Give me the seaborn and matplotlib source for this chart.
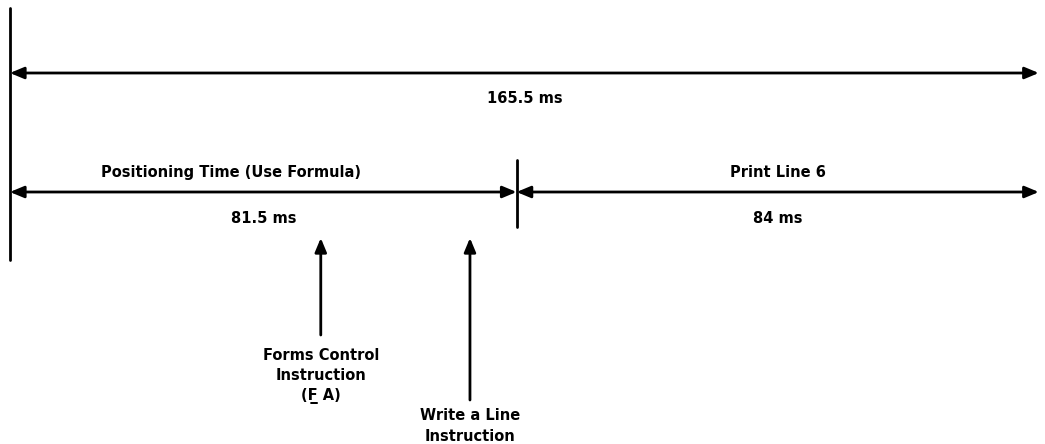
# timing diagram: positioning time + print line

import matplotlib
matplotlib.use("Agg")
import matplotlib.pyplot as plt
import seaborn as sns

# --- data (ms) ---
total_time = 165.5
segment_names = ["Positioning Time (Use Formula)", "Print Line 6"]
segment_lengths = [81.5, 84]
segment_labels = ["81.5 ms", "84 ms"]
event_times = [50.0, 74.0]
event_labels = ["Forms Control\nInstruction\n(F\u0332 A)", "Write a Line\nInstruction"]

sns.set_theme(style="white")
plt.rcParams['font.family'] = ['DejaVu Sans']

fig = plt.figure(figsize=(10.45, 4.44), dpi=100)
ax = fig.add_axes([0, 0, 1, 1])
ax.set_xlim(-1.6, total_time + 1.0)
ax.set_ylim(444, 0)
ax.axis("off")

arrow = dict(arrowstyle="<|-|>,head_length=0.6,head_width=0.25", color="black", lw=2,
             mutation_scale=14, shrinkA=0, shrinkB=0)
up_arrow = dict(arrowstyle="-|>,head_length=0.6,head_width=0.25", color="black", lw=2,
                mutation_scale=14, shrinkA=0, shrinkB=0)
txt = dict(ha="center", va="center", fontsize=10.5, fontweight="bold", color="black")

# left boundary line
ax.plot([0, 0], [8, 260], color="black", lw=2)

# total
ax.annotate("", xy=(0, 73), xytext=(total_time, 73), arrowprops=arrow)
ax.text(total_time / 2, 98, f"{total_time} ms", **txt)

# segments
start = 0
title_x = [35.5, None]
for i, (name, length, lab) in enumerate(zip(segment_names, segment_lengths, segment_labels)):
    end = start + length
    ax.annotate("", xy=(start, 192), xytext=(end, 192), arrowprops=arrow)
    mid = start + length / 2
    ax.text(title_x[i] if title_x[i] is not None else mid, 172, name, **txt)
    ax.text(mid, 218, lab, **txt)
    start = end

# boundary tick between segments
ax.plot([segment_lengths[0]] * 2, [160, 227], color="black", lw=2)

# instruction events
tails = [335, 400]
label_y = [376, 426]
for t, lab, tail, ly in zip(event_times, event_labels, tails, label_y):
    ax.annotate("", xy=(t, 238), xytext=(t, tail), arrowprops=up_arrow)
    ax.text(t, ly, lab, linespacing=1.45, **txt)

fig.savefig("out.png", dpi=100)
